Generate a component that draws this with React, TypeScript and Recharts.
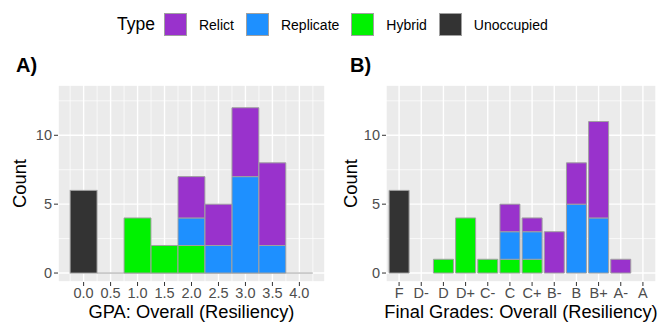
import React from 'react';
import {
  BarChart,
  Bar,
  XAxis,
  YAxis,
  CartesianGrid,
} from 'recharts';

// GPA histogram (bin centres, width 0.5)
const gpaBins = [0, 0.5, 1, 1.5, 2, 2.5, 3, 3.5, 4];
const gpaUnoccupied = [6, 0, 0, 0, 0, 0, 0, 0, 0];
const gpaHybrid = [0, 0, 4, 2, 2, 0, 0, 0, 0];
const gpaReplicate = [0, 0, 0, 0, 2, 2, 7, 2, 0];
const gpaRelict = [0, 0, 0, 0, 3, 3, 5, 6, 0];

// final grades
const grades = ['F', 'D-', 'D', 'D+', 'C-', 'C', 'C+', 'B-', 'B', 'B+', 'A-', 'A'];
const gradeUnoccupied = [6, 0, 0, 0, 0, 0, 0, 0, 0, 0, 0, 0];
const gradeHybrid = [0, 0, 1, 4, 1, 1, 1, 0, 0, 0, 0, 0];
const gradeReplicate = [0, 0, 0, 0, 0, 2, 2, 0, 5, 4, 0, 0];
const gradeRelict = [0, 0, 0, 0, 0, 2, 1, 3, 3, 7, 1, 0];

const types = ['Relict', 'Replicate', 'Hybrid', 'Unoccupied'];
const typeColors: Record<string, string> = {
  Relict: '#9932CC',
  Replicate: '#1E90FF',
  Hybrid: '#00F200',
  Unoccupied: '#333333',
};

const yTicks = [0, 5, 10];
const yMinor = [2.5, 7.5, 12.5];
const gpaMinor = [-0.25, 0.25, 0.75, 1.25, 1.75, 2.25, 2.75, 3.25, 3.75, 4.25];

const FONT = '"Liberation Sans", Arial, Helvetica, sans-serif';
const BORDER = '#A0A0A0';

const tickStyle = { fill: '#4D4D4D', fontSize: 14.5, fontFamily: FONT };
const titleStyle = { fill: '#000', fontSize: 18.3, fontFamily: FONT };

// zero-height bins of the histogram still show their outline
const HistBox = (props: any) => {
  const { x, y, width, height, fill } = props;
  if (!height) {
    return <line x1={x} x2={x + width} y1={y} y2={y} stroke={BORDER} strokeWidth={1} />;
  }
  return <rect x={x} y={y} width={width} height={height} fill={fill} stroke={BORDER} strokeWidth={1} />;
};

const stackOrder = ['Unoccupied', 'Hybrid', 'Replicate', 'Relict'];

const App: React.FC = () => {
  const gpaData = gpaBins.map((bin, i) => ({
    bin,
    Unoccupied: gpaUnoccupied[i],
    Hybrid: gpaHybrid[i],
    Replicate: gpaReplicate[i],
    Relict: gpaRelict[i],
  }));

  const gradeData = grades.map((grade, i) => ({
    grade,
    Unoccupied: gradeUnoccupied[i],
    Hybrid: gradeHybrid[i],
    Replicate: gradeReplicate[i],
    Relict: gradeRelict[i],
  }));

  const yDomain = [-0.65, 13.65];

  return (
    <div style={{ position: 'absolute', left: 0, top: 0, width: 666, height: 335, background: '#fff', fontFamily: FONT }}>
      {/* legend */}
      <div style={{ position: 'absolute', left: 117, top: 13, height: 23, display: 'flex', alignItems: 'center' }}>
        <span style={{ fontSize: 17.5, color: '#000', marginRight: 9 }}>Type</span>
        {types.map((t) => (
          <React.Fragment key={t}>
            <span style={{ width: 23, height: 23, background: typeColors[t], border: `1px solid ${BORDER}`, boxSizing: 'border-box', display: 'inline-block' }} />
            <span style={{ fontSize: 14, color: '#000', marginLeft: 12, marginRight: 12 }}>{t}</span>
          </React.Fragment>
        ))}
      </div>

      <div style={{ position: 'absolute', left: 16, top: 54, fontSize: 20, fontWeight: 'bold' }}>A)</div>
      <div style={{ position: 'absolute', left: 350, top: 54, fontSize: 20, fontWeight: 'bold' }}>B)</div>

      {/* A) GPA */}
      <div style={{ position: 'absolute', left: 0, top: 80 }}>
        <BarChart width={333} height={255} data={gpaData} margin={{ top: 5, right: 8, left: 0, bottom: 0 }} barGap={0}>
          <CartesianGrid fill="#EBEBEB" stroke="#FFFFFF" strokeWidth={0.7} xAxisId="minor" yAxisId="minor" />
          <CartesianGrid stroke="#FFFFFF" strokeWidth={1.4} />
          <XAxis
            dataKey="bin"
            type="number"
            domain={[-0.475, 4.475]}
            ticks={gpaBins}
            interval={0}
            tickFormatter={(v: number) => v.toFixed(1)}
            axisLine={false}
            tickLine={{ stroke: '#333' }}
            tickSize={4}
            tickMargin={2}
            tick={tickStyle}
            height={53}
            label={{ value: 'GPA: Overall (Resiliency)', position: 'insideBottom', offset: 17, style: titleStyle }}
          />
          <XAxis xAxisId="minor" dataKey="bin" type="number" domain={[-0.475, 4.475]} ticks={gpaMinor} interval={0} hide />
          <YAxis
            domain={yDomain}
            ticks={yTicks}
            interval={0}
            allowDataOverflow
            axisLine={false}
            tickLine={{ stroke: '#333' }}
            tickSize={4}
            tickMargin={2}
            tick={tickStyle}
            width={58}
            label={{ value: 'Count', angle: -90, position: 'insideLeft', offset: 20, style: { ...titleStyle, textAnchor: 'middle' } }}
          />
          <YAxis yAxisId="minor" domain={yDomain} ticks={yMinor} interval={0} allowDataOverflow hide />
          {stackOrder.map((t) => (
            <Bar
              key={t}
              dataKey={t}
              stackId="a"
              fill={typeColors[t]}
              barSize={26.9}
              shape={t === 'Unoccupied' ? HistBox : undefined}
              stroke={BORDER}
              strokeWidth={1}
              isAnimationActive={false}
            />
          ))}
        </BarChart>
      </div>

      {/* B) Final grades */}
      <div style={{ position: 'absolute', left: 333, top: 80 }}>
        <BarChart width={333} height={255} data={gradeData} margin={{ top: 5, right: 10, left: 0, bottom: 0 }} barCategoryGap="5%">
          <CartesianGrid fill="#EBEBEB" stroke="#FFFFFF" strokeWidth={0.7} vertical={false} yAxisId="minor" />
          <CartesianGrid stroke="#FFFFFF" strokeWidth={1.4} />
          <XAxis
            dataKey="grade"
            interval={0}
            padding={{ left: 2, right: 2 }}
            axisLine={false}
            tickLine={{ stroke: '#333' }}
            tickSize={4}
            tickMargin={2}
            tick={tickStyle}
            height={53}
            label={{ value: 'Final Grades: Overall (Resiliency)', position: 'insideBottom', offset: 17, style: titleStyle }}
          />
          <YAxis
            domain={yDomain}
            ticks={yTicks}
            interval={0}
            allowDataOverflow
            axisLine={false}
            tickLine={{ stroke: '#333' }}
            tickSize={4}
            tickMargin={2}
            tick={tickStyle}
            width={53}
            label={{ value: 'Count', angle: -90, position: 'insideLeft', offset: 18, style: { ...titleStyle, textAnchor: 'middle' } }}
          />
          <YAxis yAxisId="minor" domain={yDomain} ticks={yMinor} interval={0} allowDataOverflow hide />
          {stackOrder.map((t) => (
            <Bar
              key={t}
              dataKey={t}
              stackId="a"
              fill={typeColors[t]}
              stroke={BORDER}
              strokeWidth={1}
              isAnimationActive={false}
            />
          ))}
        </BarChart>
      </div>
    </div>
  );
};

export default App;
